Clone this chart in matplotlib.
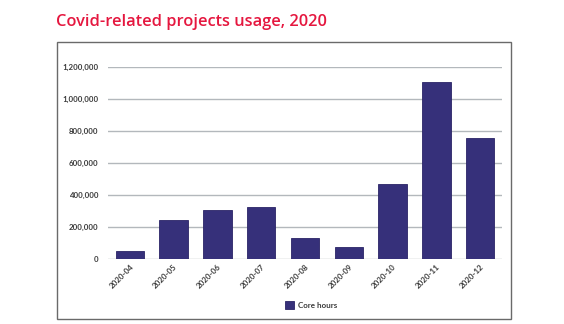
import matplotlib
matplotlib.use("Agg")
import matplotlib.pyplot as plt
from matplotlib.patches import Rectangle
from matplotlib.ticker import FuncFormatter

months = ["2020-04", "2020-05", "2020-06", "2020-07", "2020-08",
          "2020-09", "2020-10", "2020-11", "2020-12"]
core_hours = [50000, 243000, 306000, 325000, 131000, 75000, 467000, 1102000, 755000]
yticks = [0, 200000, 400000, 600000, 800000, 1000000, 1200000]

W, H = 564, 324
fig = plt.figure(figsize=(W / 100, H / 100), dpi=100)
fig.patch.set_facecolor("white")

# outer box
fig.patches.append(Rectangle((57 / W, 1 - 319 / H), (511 - 57) / W, (319 - 42) / H,
                             transform=fig.transFigure, fill=False,
                             edgecolor="#6a6a6a", linewidth=1.0))

fig.text(56 / W, 1 - 26 / H, "Covid-related projects usage, 2020",
         fontsize=11.8, fontweight="semibold", family="Open Sans",
         color="#E5173F", ha="left", va="baseline")

ax = fig.add_axes([108 / W, 1 - 259.3 / H, (502 - 108) / W, (259.3 - 66.7) / H])
x = list(range(len(months)))
ax.bar(x, core_hours, width=0.65, color="#36307A", edgecolor="#2A2466",
       linewidth=0.6, label="Core hours", zorder=3)
ax.set_xlim(-0.5, len(months) - 0.5)
ax.set_ylim(0, 1200000)
ax.set_yticks(yticks)
ax.yaxis.set_major_formatter(FuncFormatter(lambda v, p: f"{int(v):,}"))
ax.grid(axis="y", color="#b3b8bc", linewidth=1.0, zorder=0)
for s in ax.spines.values():
    s.set_visible(False)
ax.tick_params(axis="y", length=0, pad=7, labelsize=5.7, labelcolor="#3a3a3a")
ax.tick_params(axis="x", length=0, pad=3, labelsize=5.7, labelcolor="#3a3a3a")
ax.set_xticks(x)
ax.set_xticklabels(months, rotation=45, ha="right", va="top", rotation_mode="anchor")
for lbl in ax.get_xticklabels() + ax.get_yticklabels():
    lbl.set_family("Lato")
    lbl.set_fontweight("bold")

leg = fig.legend(loc="center", bbox_to_anchor=(311 / W, 1 - 305 / H), frameon=False,
                 handlelength=1.2, handleheight=1.2, handletextpad=0.5,
                 prop={"family": "Lato", "weight": "bold", "size": 5.8})
for t in leg.get_texts():
    t.set_color("#3a3a3a")

fig.savefig("out.png", dpi=100, facecolor="white")
